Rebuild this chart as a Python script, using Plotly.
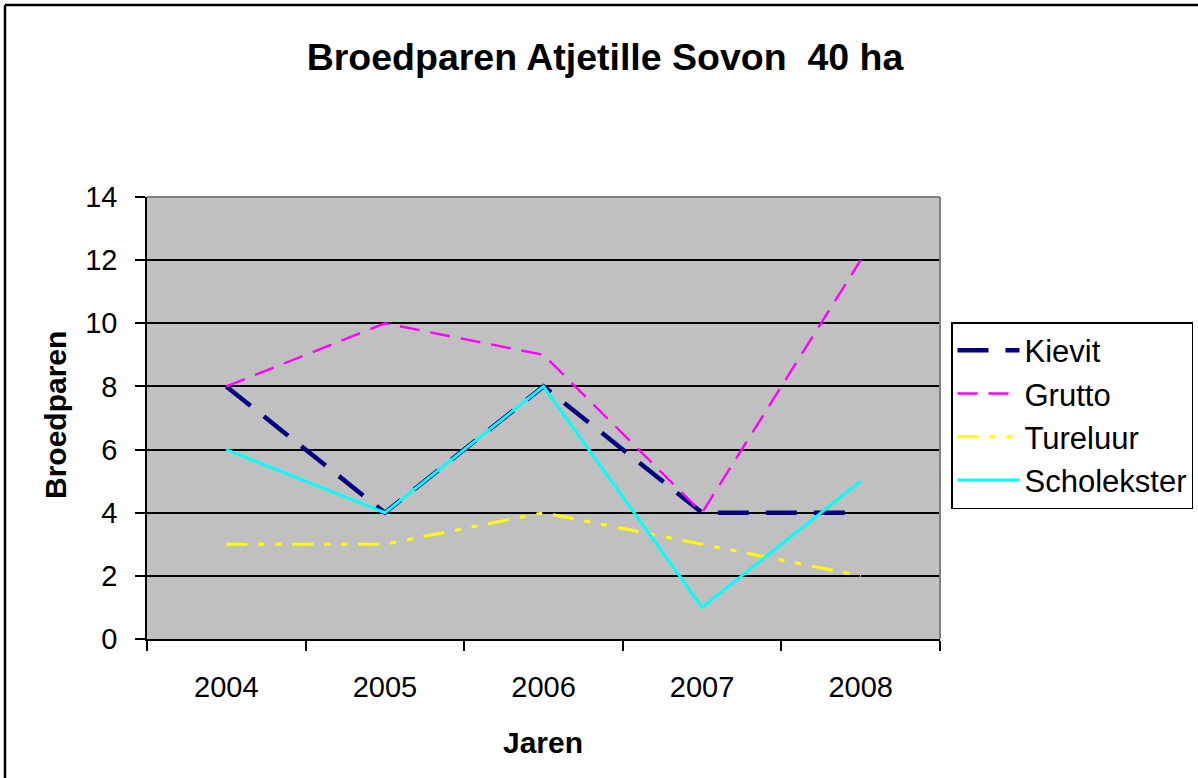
import plotly.graph_objects as go

years = ["2004", "2005", "2006", "2007", "2008"]
kievit = [8, 4, 8, 4, 4]
grutto = [8, 10, 9, 4, 12]
tureluur = [3, 3, 4, 3, 2]
scholekster = [6, 4, 8, 1, 5]
y_ticks = [0, 2, 4, 6, 8, 10, 12, 14]

W, H = 1198, 778
L, R, T, B = 147, 940, 197, 639

FONT = "Liberation Sans, Arial, sans-serif"

series = [
    ("Kievit", kievit, dict(color="#000080", width=4.5, dash="31px,17px")),
    ("Grutto", grutto, dict(color="#FF00FF", width=2.4, dash="20px,11px")),
    ("Tureluur", tureluur, dict(color="#FFFF00", width=3, dash="21px,11px,6px,11px,6px,11px")),
    ("Scholekster", scholekster, dict(color="#00FFFF", width=3)),
]

fig = go.Figure()
for name, vals, line in series:
    fig.add_trace(go.Scatter(x=years, y=vals, name=name, mode="lines", line=line,
                             legendgroup=name))

def px_x(p):
    return (p - L) / (R - L)

def px_y(p):
    return (B - p) / (B - T)

fig.update_layout(
    width=W, height=H,
    margin=dict(l=L, r=W - R, t=T, b=H - B, autoexpand=False),
    paper_bgcolor="white",
    plot_bgcolor="#C0C0C0",
    font=dict(family=FONT, color="black", size=29),
    title=dict(text="<b>Broedparen Atjetille Sovon  40 ha</b>", x=605 / W,
               xanchor="center", y=1 - 57 / H, yanchor="middle",
               font=dict(size=37.5, family=FONT)),
    showlegend=True,
    legend=dict(x=px_x(951), y=px_y(322), xanchor="left", yanchor="top",
                bgcolor="white", bordercolor="black", borderwidth=1.5,
                font=dict(size=31, family=FONT), traceorder="grouped",
                tracegroupgap=0, itemwidth=62),
    xaxis=dict(type="category", tickson="boundaries", ticks="outside", ticklen=10,
               tickcolor="black", tickwidth=1.5, showline=True, linecolor="black",
               linewidth=1.5, showgrid=False, zeroline=False,
               tickfont=dict(size=29, family=FONT), ticklabelstandoff=21,
               range=[-0.5, 4.5], fixedrange=True),
    yaxis=dict(range=[0, 14], tickvals=y_ticks, ticks="outside", ticklen=10,
               tickcolor="black", tickwidth=1.5, showline=True, linecolor="black",
               linewidth=1.5, showgrid=True, gridcolor="black", gridwidth=1.5,
               zeroline=False, tickfont=dict(size=29, family=FONT),
               ticklabelstandoff=12, fixedrange=True),
    annotations=[
        dict(text="<b>Jaren</b>", x=px_x(543), y=px_y(742), xref="paper", yref="paper",
             showarrow=False, font=dict(size=30, family=FONT), xanchor="center", yanchor="middle"),
        dict(text="<b>Broedparen</b>", x=px_x(55), y=px_y(415), xref="paper", yref="paper",
             showarrow=False, textangle=-90, font=dict(size=30, family=FONT),
             xanchor="center", yanchor="middle"),
    ],
    shapes=[
        dict(type="line", xref="paper", yref="paper", x0=0, x1=1, y0=1, y1=1,
             line=dict(color="#808080", width=2)),
        dict(type="line", xref="paper", yref="paper", x0=1, x1=1, y0=0, y1=1,
             line=dict(color="#808080", width=2)),
        dict(type="line", xref="paper", yref="paper", x0=px_x(5), x1=px_x(5),
             y0=px_y(5), y1=px_y(800), line=dict(color="black", width=2.5)),
        dict(type="line", xref="paper", yref="paper", x0=px_x(5), x1=px_x(1220),
             y0=px_y(5), y1=px_y(5), line=dict(color="black", width=2.5)),
    ],
)

fig.write_html("out.html", config={"displayModeBar": False},
               post_script="document.body.style.margin='0';document.body.style.overflow='hidden';")
